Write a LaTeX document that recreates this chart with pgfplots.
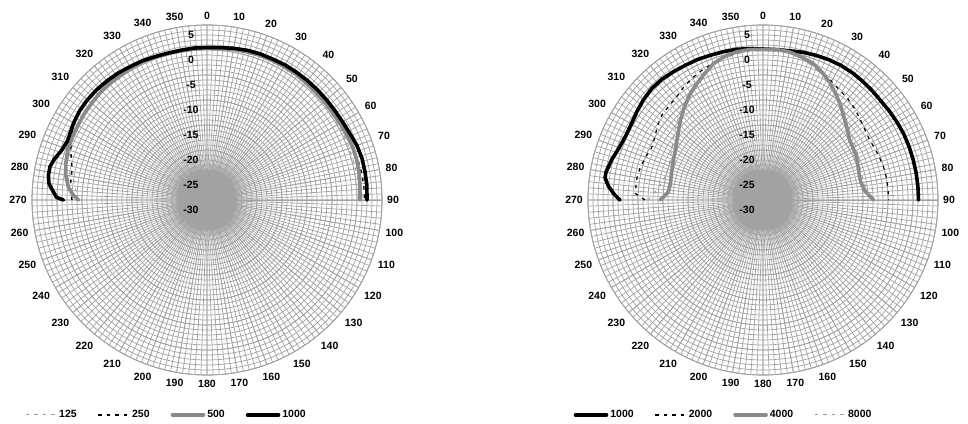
\documentclass[border=0pt]{standalone}
\usepackage{pgfplots}
\pgfplotsset{compat=1.18}
\usepackage{pgfplotstable}
\usepgfplotslibrary{polar}
\usepackage{fontspec}
\setmainfont{Liberation Sans}

\definecolor{gridc}{HTML}{A2A2A2}
\definecolor{thickgray}{HTML}{8A8A8A}
\definecolor{dashgray}{HTML}{9C9C9C}

% angle (deg, clockwise from front) and level (dB)
\pgfplotstableread{
deg db
270 -4.2
273 -3.9
276 -3.4
280 -2.8
285 -2.0
290 -1.0
295 -0.3
300 0.1
305 0.3
310 0.4
315 0.4
320 0.4
325 0.4
330 0.4
335 0.4
340 0.3
345 0.2
350 0.2
355 0.3
0 0.3
5 0.3
10 0.5
15 0.6
20 0.7
25 0.7
30 0.7
35 0.7
40 0.6
45 0.5
50 0.4
55 0.3
60 0.3
65 0.3
70 0.3
75 0.3
80 0.4
85 0.5
90 0.5
}\Lonetwofive

\pgfplotstableread{
deg db
270 -3.0
275 -2.6
280 -2.4
283 -2.3
286 -1.8
290 -1.0
295 0.0
300 0.7
305 1.0
310 1.1
315 1.0
320 0.9
325 0.8
330 0.7
335 0.6
340 0.4
345 0.3
350 0.3
355 0.4
0 0.4
5 0.5
10 0.7
15 0.9
20 1.0
25 1.0
30 1.0
35 1.0
40 1.0
45 1.0
50 0.9
55 0.8
60 0.7
65 0.8
70 1.0
75 1.2
80 1.4
85 1.5
90 1.5
}\Ltwofifty

\pgfplotstableread{
deg db
270 -4.3
272 -3.3
275 -2.2
280 -1.3
285 -0.8
290 -0.4
295 -0.3
300 -0.2
305 0.0
310 0.1
315 0.3
320 0.4
325 0.4
330 0.5
335 0.5
340 0.4
345 0.3
350 0.3
355 0.3
0 0.4
5 0.4
10 0.6
15 0.7
20 0.8
25 0.8
30 0.8
35 0.8
40 0.7
45 0.6
50 0.6
55 0.6
60 0.7
65 0.8
70 1.0
75 1.0
80 0.9
85 0.7
90 0.6
}\Lfivehundred

\pgfplotstableread{
deg db
270 -1.3
271 0.1
274 1.1
276 1.8
279 2.1
282 2.1
285 1.6
289 0.7
293 0.3
295 0.4
300 0.8
305 1.1
310 1.2
315 1.2
320 1.1
325 1.0
330 0.8
335 0.7
340 0.5
345 0.4
350 0.4
355 0.5
0 0.5
5 0.6
10 0.8
15 1.0
20 1.1
25 1.1
30 1.2
35 1.2
40 1.2
45 1.2
50 1.2
55 1.2
60 1.3
65 1.5
70 1.9
75 2.1
80 2.1
85 2.1
90 2.0
}\Lthousand

\pgfplotstableread{
deg db
270 -1.4
272 -0.3
275 1.0
278 1.9
280 1.9
285 1.3
290 0.6
295 0.3
300 0.4
305 0.8
310 1.2
315 1.5
320 1.5
325 1.3
330 1.1
335 1.0
340 0.8
345 0.7
350 0.6
355 0.4
0 0.2
5 0.2
10 0.3
15 0.6
20 0.8
25 1.0
30 1.1
35 1.1
40 1.0
45 0.9
50 0.8
55 0.9
60 1.0
65 1.1
70 1.1
75 1.1
80 1.1
85 1.1
90 1.1
}\Rthousand

\pgfplotstableread{
deg db
270 -6.4
273 -4.4
280 -4.4
285 -4.6
290 -5.0
295 -5.4
300 -5.0
305 -4.2
310 -3.6
315 -3.4
320 -3.1
325 -2.4
330 -1.8
335 -1.3
340 -0.9
345 -0.5
350 -0.2
355 0.0
0 0.1
5 0.1
10 0.0
15 -0.5
20 -1.1
25 -1.8
30 -2.6
35 -3.2
40 -3.6
45 -4.1
50 -4.7
55 -5.2
60 -5.5
65 -5.4
70 -5.2
75 -5.0
80 -4.9
85 -4.9
90 -4.9
}\Rtwothousand

\pgfplotstableread{
deg db
270 -9.4
272 -10.2
275 -11.0
280 -11.2
285 -11.0
290 -10.7
295 -10.3
300 -9.8
305 -9.0
310 -8.0
315 -6.8
320 -5.6
325 -4.4
330 -3.3
335 -2.2
340 -1.0
345 -0.3
350 0.1
355 0.2
0 0.1
5 0.2
10 0.1
15 -0.4
20 -0.9
25 -1.9
30 -3.1
35 -4.4
40 -5.7
45 -7.0
50 -8.0
55 -8.9
60 -9.2
65 -9.4
70 -9.8
75 -10.1
80 -10.1
85 -9.5
90 -7.9
}\Rfourthousand

\pgfplotstableread{
deg db
270 -7.0
275 -8.5
280 -9.5
285 -10.0
290 -10.0
295 -9.6
300 -9.0
305 -8.2
310 -7.2
315 -6.2
320 -5.0
325 -4.0
330 -3.0
335 -2.0
340 -1.2
345 -0.6
350 -0.2
355 0.0
0 0.0
5 -0.1
10 -0.2
15 -0.7
20 -1.4
25 -2.3
30 -3.3
35 -4.5
40 -5.6
45 -6.6
50 -7.5
55 -8.2
60 -8.6
65 -9.0
70 -9.4
75 -9.6
80 -9.5
85 -9.0
90 -8.5
}\Reightthousand

\newcommand{\lblfont}{\fontsize{10.5}{12}\selectfont\bfseries}

\pgfplotsset{
  mypolar/.style={
    scale only axis, width=350pt, height=350pt,
    xmin=0, xmax=360, ymin=0, ymax=35,
    xtick={0,10,...,350}, minor xtick={0,2,...,358},
    ytick={0,5,...,35}, minor ytick={0,1,...,35},
    grid=both,
    grid style={draw=gridc, line width=0.7pt},
    minor grid style={draw=gridc, line width=0.7pt},
    major tick length=0pt, minor tick length=0pt,
    axis line style={draw=gridc, line width=0.7pt},
    xticklabel={\pgfmathparse{int(mod(450-\tick,360))}\pgfmathresult},
    yticklabel style={opacity=0, text opacity=0},
    xticklabel style={font=\lblfont, inner sep=5pt},
    legend columns=4,
    legend style={draw=none, fill=none, font=\lblfont,
      nodes={inner sep=1pt},
      /tikz/every odd column/.append style={column sep=1pt},
      /tikz/every even column/.append style={column sep=20pt}},
    legend image code/.code={\draw[##1] (0pt,0pt) -- (31pt,0pt);},
  },
  s125/.style={dashgray, line width=0.9pt, dash pattern=on 3.5pt off 5pt},
  s250/.style={black, line width=1.4pt, dash pattern=on 3.5pt off 5pt},
  s500/.style={thickgray, line width=3.6pt, line cap=round, line join=round},
  s1000/.style={black, line width=3.6pt, line cap=round, line join=round},
  s2000/.style={black, line width=1.2pt, dash pattern=on 3.5pt off 5pt},
  s4000/.style={thickgray, line width=3.6pt, line cap=round, line join=round},
  s8000/.style={dashgray, line width=0.9pt, dash pattern=on 3.5pt off 5pt},
}

\newcommand{\radlabels}{%
  \node[font=\lblfont] at (axis cs:90,35) [xshift=-16pt,yshift=-10pt] {5};
  \node[font=\lblfont] at (axis cs:90,30) [xshift=-16pt,yshift=-10pt] {0};
  \node[font=\lblfont] at (axis cs:90,25) [xshift=-16pt,yshift=-10pt] {-5};
  \node[font=\lblfont] at (axis cs:90,20) [xshift=-16pt,yshift=-10pt] {-10};
  \node[font=\lblfont] at (axis cs:90,15) [xshift=-16pt,yshift=-10pt] {-15};
  \node[font=\lblfont] at (axis cs:90,10) [xshift=-16pt,yshift=-10pt] {-20};
  \node[font=\lblfont] at (axis cs:90,5) [xshift=-16pt,yshift=-10pt] {-25};
  \node[font=\lblfont] at (axis cs:90,0) [xshift=-16pt,yshift=-10pt] {-30};
}

\begin{document}
\begin{tikzpicture}
\useasboundingbox (0pt,0pt) rectangle (968pt,423pt);
\begin{polaraxis}[mypolar, at={(207pt,223pt)}, anchor=center,
  legend style={at={(0.383,-0.114)}, anchor=center}]
  \addplot[s125] table[x expr={mod(450-\thisrow{deg},360)}, y expr={\thisrow{db}+30}] {\Lonetwofive};
  \addlegendentry{125}
  \addplot[s250] table[x expr={mod(450-\thisrow{deg},360)}, y expr={\thisrow{db}+30}] {\Ltwofifty};
  \addlegendentry{250}
  \addplot[s500] table[x expr={mod(450-\thisrow{deg},360)}, y expr={\thisrow{db}+30}] {\Lfivehundred};
  \addlegendentry{500}
  \addplot[s1000] table[x expr={mod(450-\thisrow{deg},360)}, y expr={\thisrow{db}+30}] {\Lthousand};
  \addlegendentry{1000}
  \radlabels
\end{polaraxis}
\begin{polaraxis}[mypolar, at={(763pt,223pt)}, anchor=center,
  legend style={at={(0.386,-0.114)}, anchor=center}]
  \addplot[s1000] table[x expr={mod(450-\thisrow{deg},360)}, y expr={\thisrow{db}+30}] {\Rthousand};
  \addlegendentry{1000}
  \addplot[s2000] table[x expr={mod(450-\thisrow{deg},360)}, y expr={\thisrow{db}+30}] {\Rtwothousand};
  \addlegendentry{2000}
  \addplot[s4000] table[x expr={mod(450-\thisrow{deg},360)}, y expr={\thisrow{db}+30}] {\Rfourthousand};
  \addlegendentry{4000}
  \addplot[s8000] table[x expr={mod(450-\thisrow{deg},360)}, y expr={\thisrow{db}+30}] {\Reightthousand};
  \addlegendentry{8000}
  \radlabels
\end{polaraxis}
\end{tikzpicture}
\end{document}
